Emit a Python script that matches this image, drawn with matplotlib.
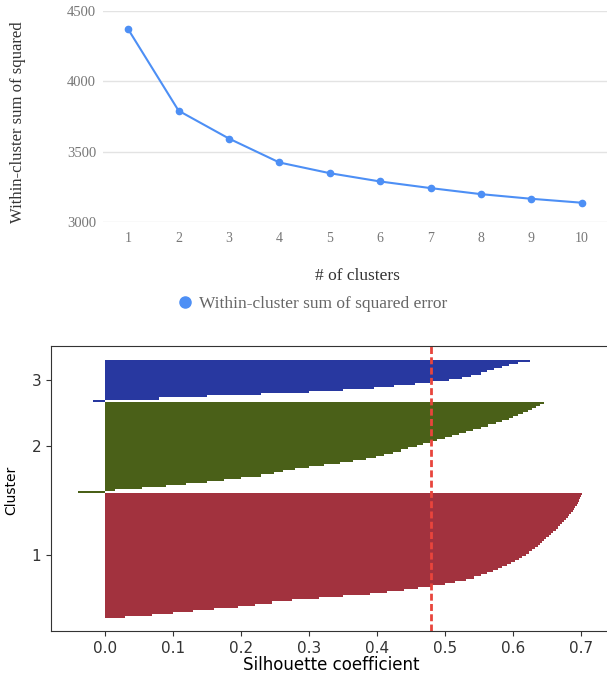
import matplotlib
matplotlib.use("Agg")
import matplotlib.pyplot as plt
from matplotlib.lines import Line2D

# elbow curve
n_clusters = [1, 2, 3, 4, 5, 6, 7, 8, 9, 10]
sse = [4370, 3791, 3593, 3423, 3347, 3288, 3241, 3198, 3165, 3137]

# silhouette values per cluster, sorted
sil_c1 = [0.03, 0.07, 0.10, 0.13, 0.16, 0.195, 0.22, 0.245, 0.275, 0.315,
          0.35, 0.39, 0.415, 0.44, 0.46, 0.48, 0.50, 0.515, 0.53, 0.543,
          0.553, 0.562, 0.570, 0.577, 0.584, 0.591, 0.597, 0.603, 0.608, 0.613,
          0.618, 0.623, 0.628, 0.632, 0.636, 0.639, 0.642, 0.645, 0.648, 0.652,
          0.655, 0.659, 0.663, 0.666, 0.669, 0.672, 0.675, 0.678, 0.680, 0.682,
          0.685, 0.687, 0.689, 0.691, 0.693, 0.695, 0.696, 0.698, 0.699, 0.701]
sil_c2 = [-0.04, 0.015, 0.055, 0.09, 0.12, 0.15, 0.175, 0.20, 0.23, 0.248,
          0.262, 0.28, 0.30, 0.322, 0.345, 0.365, 0.383, 0.398, 0.41, 0.424,
          0.435, 0.446, 0.458, 0.468, 0.478, 0.488, 0.50, 0.51, 0.52, 0.53,
          0.541, 0.552, 0.563, 0.574, 0.584, 0.593, 0.60, 0.607, 0.615, 0.621,
          0.627, 0.633, 0.639, 0.645]
sil_c3 = [-0.017, 0.08, 0.15, 0.23, 0.30, 0.35, 0.395, 0.425, 0.455, 0.478,
          0.505, 0.525, 0.538, 0.552, 0.562, 0.571, 0.583, 0.594, 0.607, 0.625]
cluster_labels = ["1", "2", "3"]
cluster_colors = ["#a2323e", "#4a6018", "#2838a0"]
sil_avg = 0.479

fig = plt.figure(figsize=(6.07, 6.75), dpi=100)

# ---- top: elbow plot ----
serif = "Liberation Serif"
ax1 = fig.add_axes([103 / 607, 1 - 222 / 675, 504 / 607, 211 / 675])
line_color = "#4d8ff5"
ax1.plot(n_clusters, sse, color=line_color, lw=1.5, marker="o", ms=4.5)
ax1.set_xlim(0.5, 10.5)
ax1.set_ylim(3000, 4500)
ax1.set_yticks([3000, 3500, 4000, 4500])
ax1.set_xticks(n_clusters)
ax1.grid(axis="y", color="#e3e3e3", lw=1)
ax1.set_axisbelow(True)
for s in ax1.spines.values():
    s.set_visible(False)
ax1.tick_params(axis="y", length=0, labelsize=10.5, labelcolor="#777777", pad=5)
ax1.tick_params(axis="x", length=0, labelsize=10, labelcolor="#777777", pad=7)
for lab in ax1.get_xticklabels() + ax1.get_yticklabels():
    lab.set_family(serif)
ax1.set_xlabel("# of clusters", family=serif, fontsize=12.5, color="#333333")
ax1.xaxis.set_label_coords(0.504, -0.22)
ax1.set_ylabel("Within-cluster sum of squared", family=serif,
               fontsize=12, color="#333333")
ax1.yaxis.set_label_coords(-0.153, 0.474)
handle = Line2D([], [], ls="none", marker="o", ms=8, color=line_color)
fig.legend([handle], ["Within-cluster sum of squared error"],
           loc="center", bbox_to_anchor=(312 / 607, 1 - 304 / 675),
           frameon=False, handletextpad=0.3, handlelength=1.0,
           prop={"family": serif, "size": 12.5},
           labelcolor="#666666")

# ---- bottom: silhouette plot ----
ax2 = fig.add_axes([51 / 607, 1 - 631 / 675, 561 / 607, 285 / 675])
y_lower = 0
yticks = []
for vals, col in zip([sil_c1, sil_c2, sil_c3], cluster_colors):
    y_upper = y_lower + len(vals)
    ax2.barh(range(y_lower, y_upper), vals, height=1.0,
             edgecolor="none", color=col)
    yticks.append((y_lower + y_upper) / 2)
    y_lower = y_upper
ax2.axvline(sil_avg, color="#e8453c", ls="--", lw=2, dashes=(2.5, 1.2))
ax2.set_yticks(yticks)
ax2.set_yticklabels(cluster_labels)
ax2.set_xlim(-0.079, 0.745)
ax2.set_ylim(-6.7, 130.2)
ax2.set_xticks([0.0, 0.1, 0.2, 0.3, 0.4, 0.5, 0.6, 0.7])
ax2.spines["right"].set_visible(False)
for s in ax2.spines.values():
    s.set_color("#333333")
ax2.tick_params(labelsize=11, colors="#333333")
ax2.set_ylabel("Cluster", fontsize=10)
ax2.yaxis.set_label_coords(-0.058, 0.495)
ax2.set_xlabel("Silhouette coefficient", fontsize=12, labelpad=0)

fig.savefig("out.png", dpi=100)
